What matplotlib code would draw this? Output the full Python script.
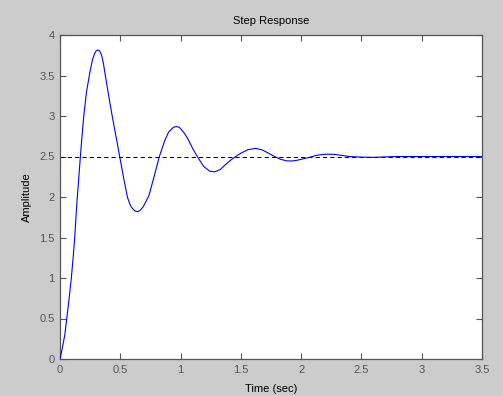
import matplotlib
matplotlib.use("Agg")
import matplotlib.pyplot as plt

# Step response samples
time_sec = [0, 0.02, 0.04, 0.056, 0.075, 0.094, 0.11, 0.122, 0.141, 0.155,
            0.169, 0.183, 0.197, 0.22, 0.249, 0.27, 0.29, 0.30, 0.315, 0.33,
            0.345, 0.36, 0.376, 0.405, 0.433, 0.473, 0.495, 0.53, 0.559, 0.575,
            0.59, 0.61, 0.625, 0.638, 0.655, 0.67, 0.69, 0.71, 0.738, 0.78,
            0.824, 0.87, 0.9, 0.94, 0.965, 0.99, 1.03, 1.06, 1.1, 1.139,
            1.19, 1.24, 1.283, 1.33, 1.38, 1.42, 1.457, 1.5, 1.56, 1.623,
            1.68, 1.73, 1.78, 1.83, 1.88, 1.919, 1.96, 2.0, 2.07, 2.13,
            2.2, 2.27, 2.33, 2.4, 2.5, 2.6, 2.7, 2.8, 3.0, 3.2, 3.5]
amplitude = [0, 0.14, 0.3, 0.5, 0.74, 1.0, 1.27, 1.5, 1.95, 2.22,
             2.5, 2.76, 3.0, 3.3, 3.55, 3.7, 3.78, 3.805, 3.815, 3.8,
             3.75, 3.65, 3.5, 3.24, 3.0, 2.68, 2.5, 2.22, 2.0, 1.93,
             1.88, 1.843, 1.826, 1.82, 1.826, 1.843, 1.88, 1.935, 2.02, 2.25,
             2.5, 2.7, 2.8, 2.86, 2.87, 2.86, 2.79, 2.72, 2.6, 2.5,
             2.38, 2.32, 2.31, 2.34, 2.41, 2.46, 2.5, 2.54, 2.585, 2.6,
             2.58, 2.54, 2.5, 2.465, 2.447, 2.444, 2.452, 2.465, 2.49, 2.515,
             2.528, 2.527, 2.515, 2.5, 2.492, 2.49, 2.495, 2.5, 2.5, 2.5, 2.5]
final_value = 2.5

x_ticks = [0, 0.5, 1, 1.5, 2, 2.5, 3, 3.5]
y_ticks = [0, 0.5, 1, 1.5, 2, 2.5, 3, 3.5, 4]
title_text = "Step Response"
x_label = "Time (sec)"
y_label = "Amplitude"

plt.rcParams['font.family'] = ['Liberation Sans', 'DejaVu Sans']

W, H = 503, 396
fig = plt.figure(figsize=(W / 100, H / 100), dpi=100, facecolor='#cccccc')
ax = fig.add_axes([60 / W, (H - 359) / H, 422 / W, 324 / H])
ax.set_facecolor('white')

ax.axhline(final_value, color='black', lw=0.75, ls=(0, (4, 3)), zorder=2)
ax.plot(time_sec, amplitude, color='#0000ff', lw=0.8, zorder=3)

ax.set_xlim(0, 3.5)
ax.set_ylim(0, 4)
ax.set_xticks(x_ticks)
ax.set_yticks(y_ticks)
ax.set_xticklabels(['%g' % v for v in x_ticks])
ax.set_yticklabels(['%g' % v for v in y_ticks])

axis_col = '#555555'
for s in ax.spines.values():
    s.set_color(axis_col)
    s.set_linewidth(0.9)
ax.tick_params(direction='in', length=4, width=0.8, color=axis_col,
               labelcolor=axis_col, labelsize=8, top=True, right=True, pad=4)

ax.set_title(title_text, fontsize=8, color='black', pad=8)
ax.set_xlabel(x_label, fontsize=8, color='black', labelpad=7)
ax.set_ylabel(y_label, fontsize=8, color='black', labelpad=5)

fig.savefig('out.png', dpi=100, facecolor=fig.get_facecolor())
